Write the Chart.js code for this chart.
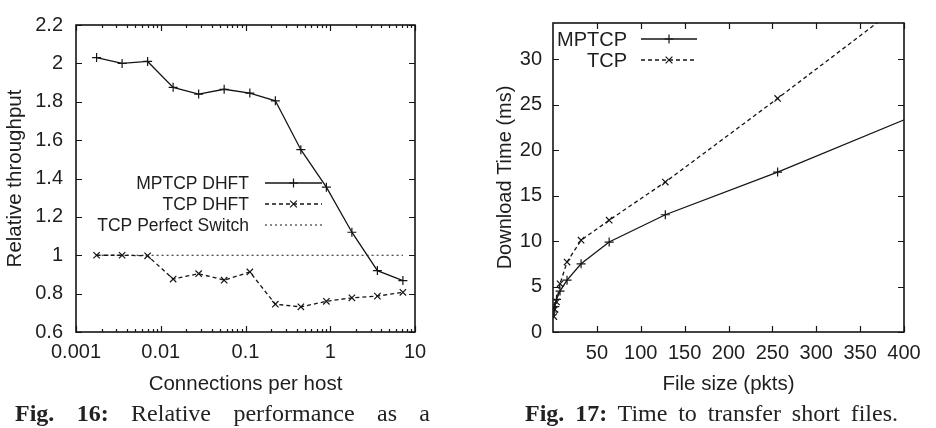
<!DOCTYPE html>
<html>
<head>
<meta charset="utf-8">
<script src="https://cdn.jsdelivr.net/npm/chart.js@4.4.1/dist/chart.umd.min.js"></script>
<style>
  html, body { margin:0; padding:0; background:#fff; width:936px; height:428px; overflow:hidden; }
  .pane { position:absolute; top:0; width:468px; height:400px; }
  .cap { position:absolute; top:398px; font-family:"Liberation Serif", "Times New Roman", serif; font-size:24px;
         line-height:30px; color:#222; text-align:justify; text-align-last:justify; }
  .cap b { font-weight:bold; }
</style>
</head>
<body>
<canvas id="fig16" class="pane" style="left:0" width="468" height="400"></canvas>
<canvas id="fig17" class="pane" style="left:468px" width="468" height="400"></canvas>
<div class="cap" style="left:15px;width:415px"><b>Fig. 16:</b> Relative performance as a</div>
<div class="cap" style="left:525px;width:373px"><b>Fig. 17:</b> Time to transfer short files.</div>

<script>
// --- fig 16 : relative throughput vs connections per host ---
const conns      = [0.00175, 0.0035, 0.007, 0.014, 0.028, 0.056, 0.1125, 0.225, 0.45, 0.9, 1.8, 3.6, 7.2];
const mptcpDhft  = [2.03, 2.00, 2.01, 1.875, 1.84, 1.865, 1.845, 1.805, 1.55, 1.355, 1.12, 0.92, 0.868];
const tcpDhft    = [1.00, 1.00, 0.997, 0.876, 0.904, 0.87, 0.913, 0.745, 0.731, 0.76, 0.778, 0.787, 0.807];
const tcpPerfect = [1, 1, 1, 1, 1, 1, 1, 1, 1, 1, 1, 1, 1];
const relTicks   = [0.6, 0.8, 1, 1.2, 1.4, 1.6, 1.8, 2, 2.2];
const connTicks  = [0.001, 0.01, 0.1, 1, 10];

// --- fig 17 : download time vs file size ---
const fileSizes  = [1, 2, 4, 8, 16, 32, 64, 128, 256, 512];
const mptcpTime  = [2.2, 2.8, 3.6, 4.5, 5.7, 7.5, 9.9, 12.9, 17.6, 27.8];
const tcpTime    = [1.7, 2.5, 3.3, 5.3, 7.7, 10.1, 12.3, 16.5, 25.7, 44.5];
const timeTicks  = [0, 5, 10, 15, 20, 25, 30];
const sizeTicks  = [50, 100, 150, 200, 250, 300, 350, 400];

const INK = '#151515';
Chart.defaults.font.family = '"Liberation Sans", Arial, Helvetica, sans-serif';
Chart.defaults.color = '#1e1e1e';

const pts = (xs, ys) => xs.map((x, i) => ({ x, y: ys[i] }));

// gnuplot style marker: '+' or 'x'
function marker(ctx, style, x, y, r){
  ctx.beginPath();
  if (style === 'cross'){ ctx.moveTo(x-r, y); ctx.lineTo(x+r, y); ctx.moveTo(x, y-r); ctx.lineTo(x, y+r); }
  else { const d = r*0.75; ctx.moveTo(x-d, y-d); ctx.lineTo(x+d, y+d); ctx.moveTo(x-d, y+d); ctx.lineTo(x+d, y-d); }
  ctx.stroke();
}

// frame with inward ticks on all sides + gnuplot-like key
const gnuFrame = {
  id: 'gnuFrame',
  afterDatasetsDraw(chart, args, o){
    const { ctx, chartArea: a, scales: { x, y } } = chart;
    ctx.save();
    ctx.strokeStyle = INK; ctx.lineWidth = 1.2; ctx.setLineDash([]);
    ctx.beginPath();
    const vt = (v, len) => { const p = Math.round(x.getPixelForValue(v)) + 0.5;
      ctx.moveTo(p, a.bottom); ctx.lineTo(p, a.bottom - len); ctx.moveTo(p, a.top); ctx.lineTo(p, a.top + len); };
    const ht = (v, len) => { const p = Math.round(y.getPixelForValue(v)) + 0.5;
      ctx.moveTo(a.left, p); ctx.lineTo(a.left + len, p); ctx.moveTo(a.right, p); ctx.lineTo(a.right - len, p); };
    o.xMajor.forEach(v => vt(v, 6));
    (o.xMinor || []).forEach(v => vt(v, 3));
    o.yMajor.forEach(v => ht(v, 6));
    ctx.stroke();
    ctx.lineWidth = 1.6;
    ctx.strokeRect(a.left, a.top, a.width, a.height);

    // key
    const k = o.key;
    ctx.font = k.size + 'px ' + Chart.defaults.font.family;
    ctx.fillStyle = Chart.defaults.color; ctx.textAlign = 'right'; ctx.textBaseline = 'middle';
    k.items.forEach((it, i) => {
      const ds = chart.data.datasets[it];
      const ky = k.y0 + i * k.dy;
      ctx.fillText(ds.label, k.textRight, ky + 1);
      ctx.lineWidth = ds.borderWidth;
      ctx.setLineDash(ds.borderDash || []);
      ctx.beginPath(); ctx.moveTo(k.x0, ky); ctx.lineTo(k.x1, ky); ctx.stroke();
      ctx.setLineDash([]);
      if (ds.pointRadius > 0){ ctx.lineWidth = ds.pointBorderWidth; marker(ctx, ds.pointStyle, (k.x0 + k.x1) / 2, ky, ds.pointRadius); }
    });
    ctx.restore();
  }
};

const lineDs = (label, data, style, dash) => ({
  label, data, borderColor: INK, borderWidth: 1.3, borderDash: dash, fill: false, tension: 0,
  pointStyle: style, pointRadius: style ? 4.5 : 0, pointBorderWidth: 1.2, pointBorderColor: INK,
  pointBackgroundColor: INK
});

const minorLog = [];
[0.001, 0.01, 0.1, 1].forEach(d => { for (let m = 2; m <= 9; m++) minorLog.push(+(d * m).toPrecision(3)); });

new Chart(document.getElementById('fig16'), {
  type: 'line',
  data: { datasets: [
    lineDs('MPTCP DHFT', pts(conns, mptcpDhft), 'cross', []),
    lineDs('TCP DHFT', pts(conns, tcpDhft), 'crossRot', [4, 3]),
    Object.assign(lineDs('TCP Perfect Switch', pts(conns, tcpPerfect), false, [2, 3]), { borderWidth: 1 })
  ]},
  plugins: [gnuFrame],
  options: {
    responsive: false, animation: false, events: [], devicePixelRatio: 1,
    layout: { padding: { top: 15, right: 53, left: 0, bottom: 0 } },
    plugins: {
      legend: { display: false }, tooltip: { enabled: false },
      gnuFrame: { xMajor: connTicks, xMinor: minorLog, yMajor: relTicks,
        key: { items: [0, 1, 2], size: 17.5, textRight: 249, x0: 265, x1: 322, y0: 183, dy: 21 } }
    },
    scales: {
      x: { type: 'logarithmic', min: 0.001, max: 10,
        grid: { display: false, drawTicks: false }, border: { display: false },
        afterBuildTicks: s => { s.ticks = connTicks.map(v => ({ value: v })); },
        afterFit: s => { s.height = 68; },
        ticks: { autoSkip: false, maxRotation: 0, padding: 8, font: { size: 20 }, callback: v => String(v) },
        title: { display: true, text: 'Connections per host', font: { size: 20.5 }, padding: { top: 0, bottom: 3 } } },
      y: { min: 0.6, max: 2.2,
        grid: { display: false, drawTicks: false }, border: { display: false },
        afterBuildTicks: s => { s.ticks = relTicks.map(v => ({ value: v })); },
        afterFit: s => { s.width = 76; },
        ticks: { padding: 13, font: { size: 20 }, callback: v => String(Math.round(v * 10) / 10) },
        title: { display: true, text: 'Relative throughput', font: { size: 20.5 }, padding: { top: 3, bottom: 0 } } }
    }
  }
});

new Chart(document.getElementById('fig17'), {
  type: 'line',
  data: { datasets: [
    lineDs('MPTCP', pts(fileSizes, mptcpTime), 'cross', []),
    lineDs('TCP', pts(fileSizes, tcpTime), 'crossRot', [4, 3])
  ]},
  plugins: [gnuFrame],
  options: {
    responsive: false, animation: false, events: [], devicePixelRatio: 1,
    layout: { padding: { top: 22, right: 32, left: 0, bottom: 0 } },
    plugins: {
      legend: { display: false }, tooltip: { enabled: false },
      gnuFrame: { xMajor: sizeTicks, yMajor: timeTicks,
        key: { items: [0, 1], size: 20, textRight: 159, x0: 173, x1: 229, y0: 39, dy: 21 } }
    },
    scales: {
      x: { type: 'linear', min: 0, max: 400,
        grid: { display: false, drawTicks: false }, border: { display: false },
        afterBuildTicks: s => { s.ticks = sizeTicks.map(v => ({ value: v })); },
        afterFit: s => { s.height = 68; },
        ticks: { autoSkip: false, maxRotation: 0, padding: 9.5, font: { size: 20 }, callback: v => String(v) },
        title: { display: true, text: 'File size (pkts)', font: { size: 20.5 }, padding: { top: 0, bottom: 3 } } },
      y: { min: 0, max: 34,
        grid: { display: false, drawTicks: false }, border: { display: false },
        afterBuildTicks: s => { s.ticks = timeTicks.map(v => ({ value: v })); },
        afterFit: s => { s.width = 85; },
        ticks: { padding: 11, font: { size: 20 }, callback: v => String(v) },
        title: { display: true, text: 'Download Time (ms)', font: { size: 20 }, padding: { top: 25, bottom: 0 } } }
    }
  }
});
</script>
</body>
</html>
